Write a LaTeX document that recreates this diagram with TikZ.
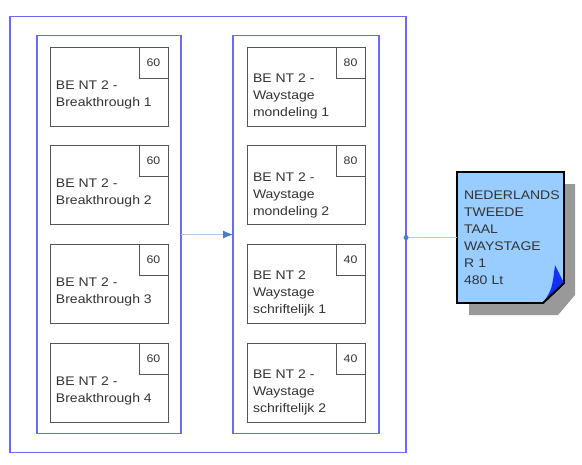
\documentclass[tikz,border=0pt]{standalone}
\usepackage{fontspec}
\setmainfont{Liberation Sans}[FakeStretch=1.12]
\usetikzlibrary{arrows.meta,positioning,fit,calc,backgrounds}
\definecolor{grpBlue}{HTML}{6A6AF8}
\definecolor{linkBlue}{HTML}{A9C8EA}
\definecolor{tipBlue}{HTML}{4A7CC8}
\definecolor{docFill}{HTML}{99CCFF}
\definecolor{foldBlue}{HTML}{1430F0}
\definecolor{shadowGray}{HTML}{999999}
\definecolor{unitGray}{HTML}{555555}
\definecolor{textGray}{HTML}{333333}
\tikzset{
  group/.style={rectangle, draw=grpBlue, line width=1.2pt},
  unit/.style={rectangle, draw=unitGray, line width=0.9pt, minimum width=118pt, minimum height=79pt},
  hours/.style={rectangle, draw=unitGray, line width=0.9pt, minimum width=29pt, minimum height=31pt, anchor=north east, text=textGray, font=\fontsize{11}{12}\selectfont},
  unittext/.style={anchor=west, align=left, inner sep=0pt, text=textGray, font=\fontsize{12.5}{17}\selectfont},
  exam/.style={rectangle, minimum width=107pt, minimum height=131pt, text width=93pt, inner xsep=7pt, align=left, text=textGray, font=\fontsize{12.5}{17}\selectfont},
  link/.style={draw=linkBlue, line width=0.8pt}
}

\begin{document}
\begin{tikzpicture}[x=1pt,y=1pt,every node/.style={outer sep=0pt}]
\useasboundingbox (0,0) rectangle (582,-465);

% left column: breakthrough units
\node[unit] (bt1) at (109,-86.5) {};
\node[unit, below=19.7pt of bt1] (bt2) {};
\node[unit, below=19.7pt of bt2] (bt3) {};
\node[unit, below=19.7pt of bt3] (bt4) {};

% right column: waystage units
\node[unit, right=79pt of bt1] (ws1) {};
\node[unit, right=79pt of bt2] (ws2) {};
\node[unit, right=79pt of bt3] (ws3) {};
\node[unit, right=79pt of bt4] (ws4) {};

\node[hours] at (bt1.north east) {60};
\node[hours] at (bt2.north east) {60};
\node[hours] at (bt3.north east) {60};
\node[hours] at (bt4.north east) {60};
\node[hours] at (ws1.north east) {80};
\node[hours] at (ws2.north east) {80};
\node[hours] at (ws3.north east) {40};
\node[hours] at (ws4.north east) {40};

\node[unittext] at ($(bt1.west)+(6,-8)$) {BE NT 2 -\\Breakthrough 1};
\node[unittext] at ($(bt2.west)+(6,-8)$) {BE NT 2 -\\Breakthrough 2};
\node[unittext] at ($(bt3.west)+(6,-8)$) {BE NT 2 -\\Breakthrough 3};
\node[unittext] at ($(bt4.west)+(6,-8)$) {BE NT 2 -\\Breakthrough 4};
\node[unittext] at ($(ws1.west)+(6,-10)$) {BE NT 2 -\\Waystage\\mondeling 1};
\node[unittext] at ($(ws2.west)+(6,-10)$) {BE NT 2 -\\Waystage\\mondeling 2};
\node[unittext] at ($(ws3.west)+(6,-10)$) {BE NT 2\\Waystage\\schriftelijk 1};
\node[unittext] at ($(ws4.west)+(6,-10)$) {BE NT 2 -\\Waystage\\schriftelijk 2};

% groups
\node[group, fit=(bt1)(bt4), inner xsep=13pt, inner ysep=11.5pt] (lcol) {};
\node[group, fit=(ws1)(ws4), inner xsep=14pt, inner ysep=11.5pt] (rcol) {};
\node[group, fit=(lcol)(rcol), inner xsep=27pt, inner ysep=19pt] (outer) {};

% exam document
\node[exam, right=51pt of outer, yshift=-3pt] (exam) {NEDERLANDS\\TWEEDE\\TAAL\\WAYSTAGE\\R 1\\480 Lt};
\begin{scope}[on background layer]
\fill[shadowGray] ($(exam.north east)+(11,-12)$) -- ($(exam.south east)+(11,8)$)
  -- ($(exam.south east)+(-6,-12)$) -- ($(exam.south west)+(12,-12)$)
  -- ($(exam.south west)+(12,0)$) -- ($(exam.south east)+(-21,0)$)
  -- ($(exam.south east)+(0,20)$) -- ($(exam.north east)+(0,-12)$) -- cycle;
\draw[black, line width=1.8pt, fill=docFill] (exam.north west) -- (exam.north east)
  -- ($(exam.south east)+(0,20)$) -- ($(exam.south east)+(-21,0)$) -- (exam.south west) -- cycle;
\end{scope}
\fill[foldBlue] ($(exam.south east)+(-21,0)$) .. controls ($(exam.south east)+(-12,14)$) .. ($(exam.south east)+(-9,38)$)
  -- ($(exam.south east)+(0,20)$) -- cycle;
\draw[black, line width=1.8pt] ($(exam.south east)+(0,20)$) -- ($(exam.south east)+(-21,0)$);

% connectors
\draw[link, -{Latex[length=10pt, width=8pt, fill=tipBlue, color=tipBlue]}] (lcol.east) -- (rcol.west);
\draw[link] (outer.east |- exam.west) -- (exam.west);
\fill[tipBlue] (outer.east |- exam.west) circle (2.5pt);

\end{tikzpicture}
\end{document}
